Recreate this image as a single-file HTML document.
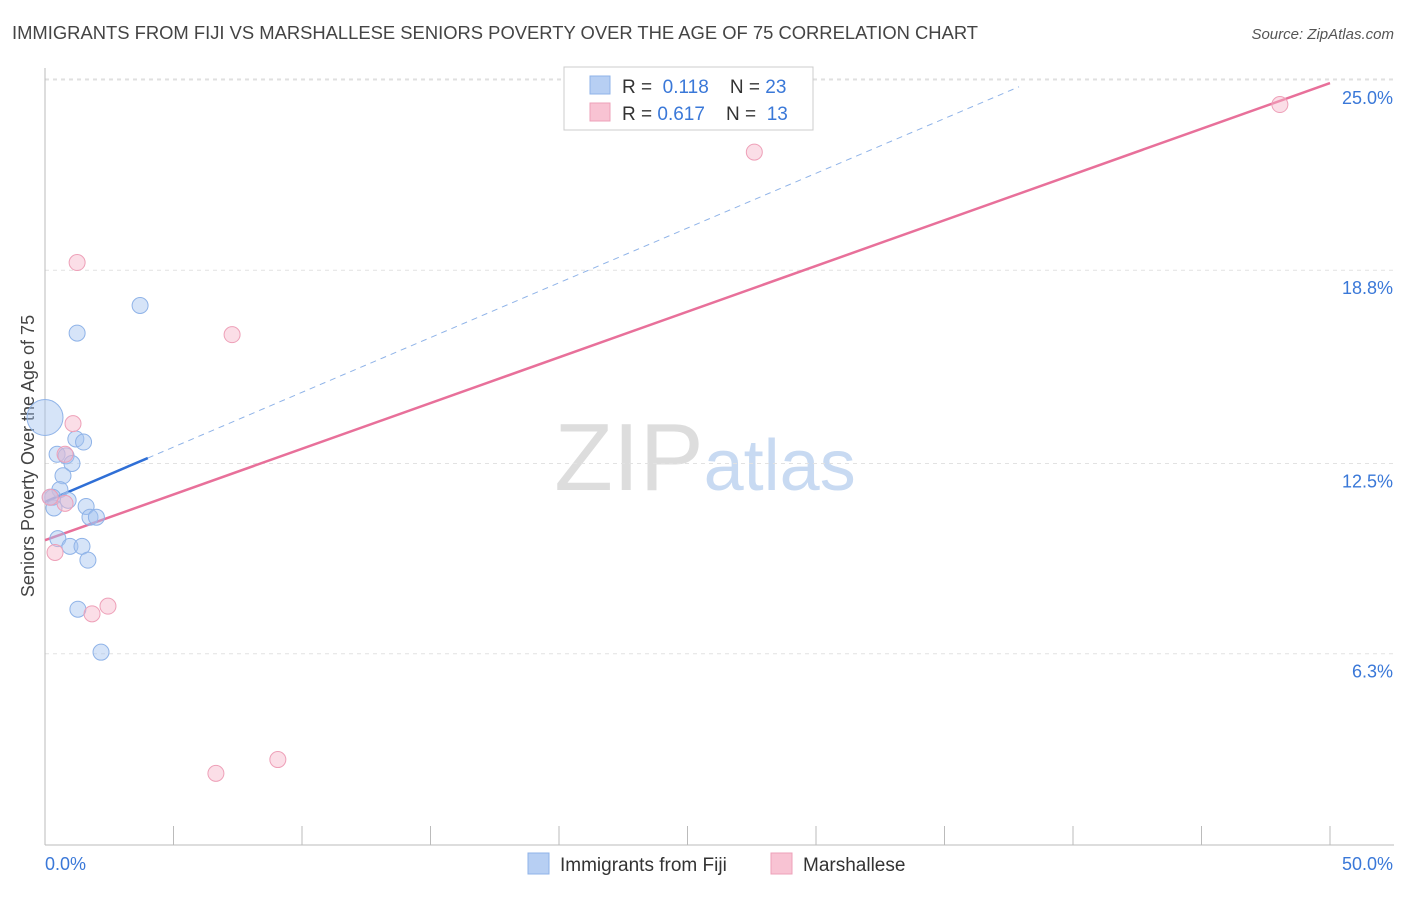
<!DOCTYPE html>
<html><head><meta charset="utf-8">
<style>
body{margin:0;background:#fff;font-family:"Liberation Sans",sans-serif;}
svg text{font-family:"Liberation Sans",sans-serif;}
</style></head>
<body>
<svg id="chart" width="1406" height="892" xmlns="http://www.w3.org/2000/svg">
<text x="12" y="39" font-size="18.4" fill="#444">IMMIGRANTS FROM FIJI VS MARSHALLESE SENIORS POVERTY OVER THE AGE OF 75 CORRELATION CHART</text>
<text x="1394" y="39" font-size="15" fill="#555" text-anchor="end" font-style="italic">Source: ZipAtlas.com</text>
<text x="705" y="490" font-size="96" text-anchor="middle" fill="#ddd" font-family="Liberation Serif">ZIP<tspan fill="#c8daf2" font-family="Liberation Sans" font-size="72">atlas</tspan></text>
<text transform="translate(34,456) rotate(-90)" font-size="18" fill="#444" text-anchor="middle">Seniors Poverty Over the Age of 75</text>
<g id="grid"></g>
<g id="axes"></g>
<g id="lines"></g>
<g id="points"></g>
<g>
<rect x="564" y="67" width="249" height="63" fill="#fff" stroke="#ccc"/>
<rect x="590" y="76" width="20" height="18" fill="#b7cff3" stroke="#8fb3e8"/>
<text x="622" y="93" font-size="19" fill="#333">R = <tspan fill="#3a78d8">&#160;0.118</tspan>&#160;&#160;&#160;&#160;N = <tspan fill="#3a78d8">23</tspan></text>
<rect x="590" y="103" width="20" height="18" fill="#f8c3d3" stroke="#eea0b8"/>
<text x="622" y="120" font-size="19" fill="#333">R = <tspan fill="#3a78d8">0.617</tspan>&#160;&#160;&#160;&#160;N = <tspan fill="#3a78d8">&#160;13</tspan></text>
</g>
<g>
<rect x="528" y="853" width="21" height="21" fill="#b7cff3" stroke="#8fb3e8"/>
<text x="560" y="871" font-size="19" fill="#333">Immigrants from Fiji</text>
<rect x="771" y="853" width="21" height="21" fill="#f8c3d3" stroke="#eea0b8"/>
<text x="803" y="871" font-size="19" fill="#333">Marshallese</text>
</g>
</svg>
<script>
const yTicks=[25.0,18.8,12.5,6.3];
const yTickLabels=["25.0%","18.8%","12.5%","6.3%"];
const xTickLabels=["0.0%","50.0%"];
const fijiX=[0.0,3.7,1.25,1.2,1.5,0.47,0.82,1.05,0.7,0.58,0.3,0.9,0.35,1.6,1.75,2.0,0.5,0.97,1.44,1.67,1.28,2.18,0.2];
const fijiY=[14.0,17.65,16.75,13.3,13.2,12.8,12.75,12.5,12.1,11.65,11.4,11.3,11.05,11.1,10.75,10.75,10.05,9.8,9.8,9.35,7.75,6.35,11.4];
const fijiR=[18,8,8,8,8,8,8,8,8,8,8,8,8,8,8,8,8,8,8,8,8,8,8];
const marshX=[1.25,7.28,27.6,48.05,1.09,0.78,0.78,0.39,1.83,2.45,6.65,9.06,0.2];
const marshY=[19.05,16.7,22.65,24.2,13.8,12.8,11.2,9.6,7.6,7.85,2.4,2.85,11.4];
const fijiTrend=[11.25,0.357];
const marshTrend=[10.0,0.298];
const fijiSolidEnd=4.0, fijiDashEnd=37.9;
const NS='http://www.w3.org/2000/svg';
const X=v=>45+v*25.7, Y=v=>847-v*30.68;
function mk(tag,attrs,parent){const e=document.createElementNS(NS,tag);for(const k in attrs)e.setAttribute(k,attrs[k]);document.getElementById(parent).appendChild(e);return e;}
let e=mk('line',{x1:45,x2:1394,y1:Y(25)-1,y2:Y(25)-1,stroke:'#ddd','stroke-dasharray':'4,4'},'grid');
yTicks.forEach((t,i)=>{
 let g=mk('line',{x1:45,x2:1394,y1:Y(t),y2:Y(t),stroke:'#e2e2e2','stroke-dasharray':'4,4'},'grid');
 
 
 let l=mk('text',{x:1393,y:Y(t)+24,'font-size':18,fill:'#3a78d8','text-anchor':'end'},'axes');
 l.textContent=yTickLabels[i];
 
 
});
let ax=mk('line',{x1:45,x2:1394,y1:845,y2:845,stroke:'#bbb'},'axes');


let ay=mk('line',{x1:45,x2:45,y1:68,y2:845,stroke:'#bbb'},'axes');


for(let k=1;k<=10;k++){let t=mk('line',{x1:X(k*5),x2:X(k*5),y1:826,y2:845,stroke:'#bbb'},'axes');
 
 }
xTickLabels.forEach((s,i)=>{let l=mk('text',{x:i?1393:45,y:870,'font-size':18,fill:'#3a78d8','text-anchor':i?'end':'start'},'axes');l.textContent=s;
 
 });
let fd=mk('line',{x1:X(fijiSolidEnd),y1:Y(fijiTrend[0]+fijiTrend[1]*fijiSolidEnd),x2:X(fijiDashEnd),y2:Y(fijiTrend[0]+fijiTrend[1]*fijiDashEnd),stroke:'#8fb3e8','stroke-width':1,'stroke-dasharray':'6,5'},'lines');


let fl=mk('line',{x1:X(0),y1:Y(fijiTrend[0]),x2:X(fijiSolidEnd),y2:Y(fijiTrend[0]+fijiTrend[1]*fijiSolidEnd),stroke:'#2f6fd6','stroke-width':2.5},'lines');


let ml=mk('line',{x1:X(0),y1:Y(marshTrend[0]),x2:X(50),y2:Y(marshTrend[0]+marshTrend[1]*50),stroke:'#e8709a','stroke-width':2.5},'lines');


fijiX.forEach((x,i)=>{let c=mk('circle',{cx:X(x),cy:Y(fijiY[i]),r:fijiR[i],fill:'rgba(165,195,240,0.45)',stroke:'#8fb3e8','stroke-width':1},'points');
 
 });
marshX.forEach((x,i)=>{let c=mk('circle',{cx:X(x),cy:Y(marshY[i]),r:8,fill:'rgba(246,182,202,0.45)',stroke:'#eea0b8','stroke-width':1},'points');
 
 });
</script>
</body></html>
